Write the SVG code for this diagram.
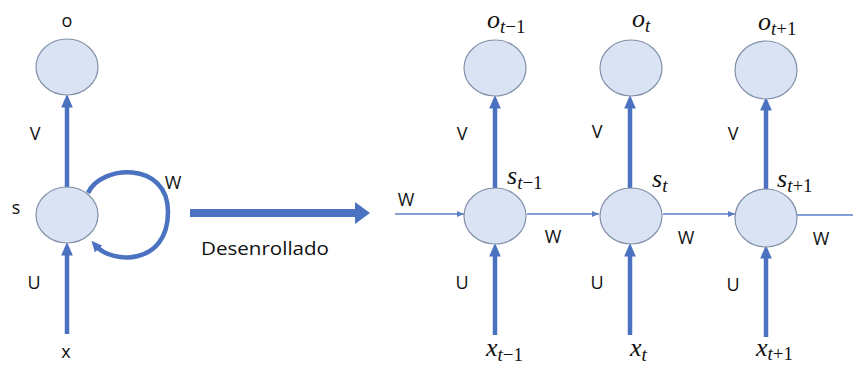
<svg xmlns="http://www.w3.org/2000/svg" width="853" height="367" viewBox="0 0 853 367">
<style>
.node{fill:#dae3f3;stroke:#8090a8;stroke-width:1.2}
.thick{stroke:#4a72c0;stroke-width:4.5;fill:none}
.thin{stroke:#5b7fc4;stroke-width:1.3;fill:none}
.lbl{font-family:"Open Sans","Liberation Sans",sans-serif;font-size:18px;fill:#111}
.m{font-family:"Liberation Serif","DejaVu Serif",serif;font-style:italic;font-size:26px;fill:#111}
.sub{font-size:19px}
.up{font-style:normal}
</style>
<defs>
<marker id="ah" markerWidth="3" markerHeight="3" refX="1" refY="1.5" orient="auto" markerUnits="strokeWidth" viewBox="0 0 3 3">
<path d="M0,0.2 L3,1.5 L0,2.8 z" fill="#4a72c0"/>
</marker>
<marker id="ahl" markerWidth="11" markerHeight="11" refX="4" refY="5.5" orient="auto" markerUnits="userSpaceOnUse" viewBox="0 0 11 11">
<path d="M0,0.5 L11,5.5 L0,10.5 z" fill="#4a72c0"/>
</marker>
<marker id="ahs" markerWidth="7" markerHeight="7" refX="7" refY="3.5" orient="auto" markerUnits="userSpaceOnUse" viewBox="0 0 7 7">
<path d="M0,0.5 L7,3.5 L0,6.5 z" fill="#5b7fc4"/>
</marker>
</defs>
<g id="connectors">
<line class="thick" x1="67" y1="187" x2="67" y2="103" marker-end="url(#ah)"/>
<line class="thick" x1="67" y1="334" x2="67" y2="251" marker-end="url(#ah)"/>
<path class="thick" d="M88,193 C100,165 168,160 168,212 C168,266 112,264 96,246" stroke-width="2.6" marker-end="url(#ahl)"/>
<line class="thick" x1="495" y1="188" x2="495" y2="104" marker-end="url(#ah)"/>
<line class="thick" x1="495" y1="335" x2="495" y2="252" marker-end="url(#ah)"/>
<line class="thick" x1="630" y1="188" x2="630" y2="104" marker-end="url(#ah)"/>
<line class="thick" x1="630" y1="335" x2="630" y2="252" marker-end="url(#ah)"/>
<line class="thick" x1="766" y1="190" x2="766" y2="106" marker-end="url(#ah)"/>
<line class="thick" x1="766" y1="337" x2="766" y2="254" marker-end="url(#ah)"/>
<line class="thin" x1="395" y1="214" x2="464" y2="214" marker-end="url(#ahs)"/>
<line class="thin" x1="527" y1="214" x2="599" y2="214" marker-end="url(#ahs)"/>
<line class="thin" x1="663" y1="214" x2="735" y2="214" marker-end="url(#ahs)"/>
<line class="thin" x1="797" y1="215" x2="853" y2="215"/>
<path d="M190,209 H355 V202 L370,213 L355,224 V217 H190 z" fill="#4a72c0"/>
</g>
<g id="n-o">
<ellipse class="node" cx="67" cy="67" rx="31" ry="28"/>
<text class="lbl" x="67" y="27" text-anchor="middle">o</text>
</g>
<g id="n-s">
<ellipse class="node" cx="67" cy="215" rx="31" ry="28"/>
<text class="lbl" x="16" y="214" text-anchor="middle">s</text>
</g>
<g id="n-x"><text class="lbl" x="66" y="358" text-anchor="middle">x</text></g>
<g id="lbl-left">
<text class="lbl" x="35" y="140" text-anchor="middle">V</text>
<text class="lbl" x="34" y="289" text-anchor="middle">U</text>
<text class="lbl" x="173" y="189" text-anchor="middle">W</text>
<text class="lbl" x="265" y="255" text-anchor="middle" font-size="19" textLength="128" lengthAdjust="spacingAndGlyphs">Desenrollado</text>
</g>
<g id="n-o1">
<ellipse class="node" cx="495" cy="68" rx="31" ry="28"/>
<text class="m" x="487" y="28">o<tspan class="sub" dy="5">t<tspan class="up">−1</tspan></tspan></text>
</g>
<g id="n-s1">
<ellipse class="node" cx="495" cy="216" rx="31" ry="28"/>
<text class="m" x="507" y="184">s<tspan class="sub" dy="5">t<tspan class="up">−1</tspan></tspan></text>
</g>
<g id="n-x1">
<text class="m" x="486" y="356">x<tspan class="sub" dy="5">t<tspan class="up">−1</tspan></tspan></text>
</g>
<g id="n-o2">
<ellipse class="node" cx="631" cy="68" rx="31" ry="28"/>
<text class="m" x="632" y="27">o<tspan class="sub" dy="5">t</tspan></text>
</g>
<g id="n-s2">
<ellipse class="node" cx="631" cy="216" rx="31" ry="28"/>
<text class="m" x="652" y="187">s<tspan class="sub" dy="5">t</tspan></text>
</g>
<g id="n-x2">
<text class="m" x="630" y="356">x<tspan class="sub" dy="5">t</tspan></text>
</g>
<g id="n-o3">
<ellipse class="node" cx="766" cy="70" rx="31" ry="29"/>
<text class="m" x="758" y="30">o<tspan class="sub" dy="5">t<tspan class="up">+1</tspan></tspan></text>
</g>
<g id="n-s3">
<ellipse class="node" cx="766" cy="218" rx="31" ry="29"/>
<text class="m" x="777" y="187">s<tspan class="sub" dy="5">t<tspan class="up">+1</tspan></tspan></text>
</g>
<g id="n-x3">
<text class="m" x="756" y="356">x<tspan class="sub" dy="4">t<tspan class="up">+1</tspan></tspan></text>
</g>
<g id="lbl-right">
<text class="lbl" x="406" y="206" text-anchor="middle">W</text>
<text class="lbl" x="462" y="140" text-anchor="middle">V</text>
<text class="lbl" x="462" y="289" text-anchor="middle">U</text>
<text class="lbl" x="553" y="243" text-anchor="middle">W</text>
<text class="lbl" x="597" y="138" text-anchor="middle">V</text>
<text class="lbl" x="597" y="289" text-anchor="middle">U</text>
<text class="lbl" x="686" y="244" text-anchor="middle">W</text>
<text class="lbl" x="733" y="140" text-anchor="middle">V</text>
<text class="lbl" x="733" y="291" text-anchor="middle">U</text>
<text class="lbl" x="821" y="245" text-anchor="middle">W</text>
</g>
</svg>
